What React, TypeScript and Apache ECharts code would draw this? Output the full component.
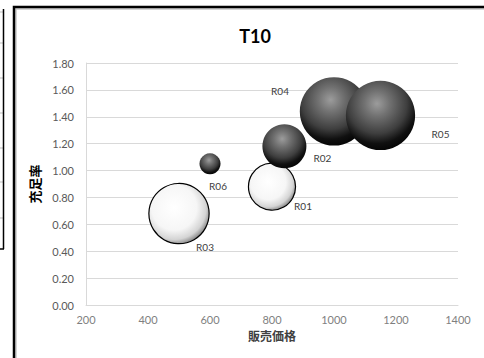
import React, { useEffect, useRef } from "react";
import * as echarts from "echarts";

// Bubble chart: price vs. fulfilment rate per region
const regions = ["R01", "R02", "R03", "R04", "R05", "R06"];
const prices = [800, 840, 500, 1000, 1150, 600];
const fulfilment = [0.88, 1.18, 0.68, 1.44, 1.41, 1.05];
const volumes = [55, 48, 90, 116, 119, 11];
const tones = ["light", "dark", "light", "dark", "dark", "dark"];
const xTicks = [200, 400, 600, 800, 1000, 1200, 1400];
const yTicks = [0, 0.2, 0.4, 0.6, 0.8, 1.0, 1.2, 1.4, 1.6, 1.8];

// label placement relative to each bubble centre
const labelOffsets: [number, number][] = [
  [31, 19],
  [38, 12],
  [26, 33],
  [-54, -20],
  [60, 19],
  [8, 22],
];

const FONT = "Lato, 'Noto Sans CJK JP', sans-serif";
const LABEL_COLOR = "#404040";

const darkFill = () =>
  new echarts.graphic.RadialGradient(0.45, 0.33, 0.72, [
    { offset: 0, color: "#9c9c9c" },
    { offset: 0.25, color: "#727272" },
    { offset: 0.6, color: "#3e3e3e" },
    { offset: 0.8, color: "#101010" },
    { offset: 1, color: "#000000" },
  ]);

const lightFill = () =>
  new echarts.graphic.RadialGradient(0.42, 0.4, 0.68, [
    { offset: 0, color: "#ffffff" },
    { offset: 0.55, color: "#f6f6f6" },
    { offset: 0.78, color: "#d4d4d4" },
    { offset: 0.92, color: "#848484" },
    { offset: 1, color: "#333333" },
  ]);

export default function App() {
  const ref = useRef<HTMLDivElement>(null);

  useEffect(() => {
    if (!ref.current) return;
    const chart = echarts.init(ref.current, undefined, { renderer: "svg" });

    const data = regions.map((name, i) => ({
      name,
      value: [prices[i], fulfilment[i], volumes[i]],
      itemStyle:
        tones[i] === "dark"
          ? { color: darkFill(), borderWidth: 0, opacity: 1 }
          : { color: lightFill(), borderColor: "#000", borderWidth: 1.2, opacity: 1 },
      label: {
        offset: labelOffsets[i],
        color: LABEL_COLOR,
        textBorderWidth: 0,
        textBorderColor: "transparent",
      },
    }));

    const sideLines = [12, 43, 78, 113, 148, 182, 218].map((y) => ({
      type: "line",
      shape: { x1: 0, y1: y, x2: 3, y2: y },
      style: { stroke: "#bdbdbd", lineWidth: 1 },
    }));

    chart.setOption({
      animation: false,
      backgroundColor: "#ffffff",
      title: {
        text: "T10",
        left: 250,
        top: 22,
        textAlign: "center",
        textStyle: { fontFamily: FONT, fontSize: 18, fontWeight: "bold", color: "#000" },
      },
      graphic: [
        ...sideLines,
        {
          type: "line",
          shape: { x1: 3.5, y1: 9, x2: 3.5, y2: 249 },
          style: { stroke: "#000", lineWidth: 1.5 },
        },
        {
          type: "line",
          shape: { x1: 0, y1: 249, x2: 4, y2: 249 },
          style: { stroke: "#000", lineWidth: 1.5 },
        },
        {
          type: "rect",
          shape: { x: 16, y: 9, width: 480, height: 360 },
          style: { fill: "none", stroke: "#c8c8c8", lineWidth: 1.5 },
        },
        {
          type: "rect",
          shape: { x: 14, y: 7, width: 480, height: 360 },
          style: { fill: "none", stroke: "#000", lineWidth: 2.5 },
        },
      ],
      grid: { left: 86, right: 26, top: 63, bottom: 53 },
      xAxis: {
        type: "value",
        min: xTicks[0],
        max: xTicks[xTicks.length - 1],
        interval: 200,
        name: "販売価格",
        nameLocation: "middle",
        nameGap: 25,
        nameTextStyle: { fontFamily: FONT, fontSize: 12, fontWeight: "bold", color: "#404040" },
        axisLine: { show: true, lineStyle: { color: "#d9d9d9" } },
        axisTick: { show: false },
        splitLine: { show: false },
        axisLabel: {
          fontFamily: FONT,
          fontSize: 11,
          color: "#7f7f7f",
          margin: 9,
          formatter: (v: number) => String(v),
        },
      },
      yAxis: {
        type: "value",
        min: yTicks[0],
        max: yTicks[yTicks.length - 1],
        interval: 0.2,
        name: "充足率",
        nameLocation: "middle",
        nameGap: 36,
        nameRotate: 90,
        nameTextStyle: { fontFamily: FONT, fontSize: 13, fontWeight: "bold", color: "#000" },
        axisLine: { show: true, lineStyle: { color: "#d9d9d9" } },
        axisTick: { show: false },
        splitLine: { show: true, lineStyle: { color: "#d9d9d9", width: 1 } },
        axisLabel: {
          fontFamily: FONT,
          fontSize: 11,
          color: "#595959",
          margin: 12,
          formatter: (v: number) => v.toFixed(2),
        },
      },
      series: [
        {
          type: "scatter",
          data,
          symbolSize: (val: number[]) => Math.sqrt(val[2]) * 6.35,
          itemStyle: { opacity: 1 },
          label: {
            show: true,
            position: "inside",
            formatter: (p: any) => p.name,
            fontFamily: FONT,
            fontSize: 10,
            color: LABEL_COLOR,
            textBorderWidth: 0,
          },
          emphasis: { disabled: true },
        },
      ],
    });

    return () => chart.dispose();
  }, []);

  return (
    <div
      ref={ref}
      style={{ position: "fixed", left: 0, top: 0, width: 484, height: 358 }}
    />
  );
}
